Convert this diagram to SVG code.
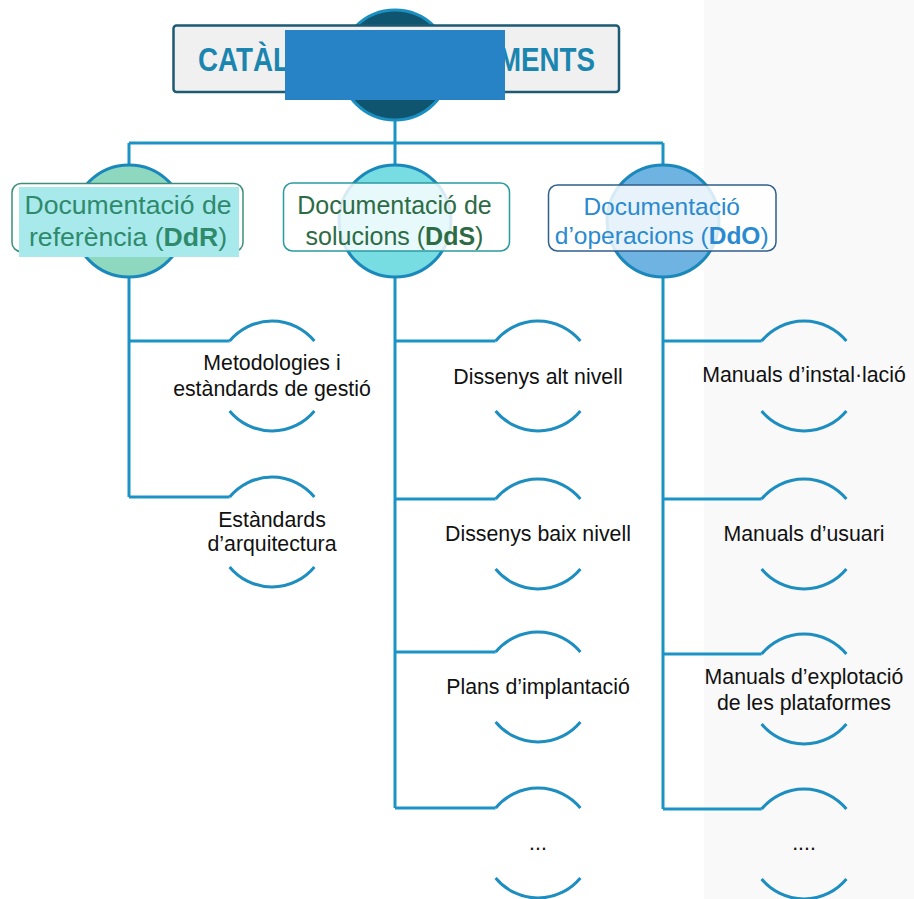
<svg xmlns="http://www.w3.org/2000/svg" width="914" height="899" viewBox="0 0 914 899">
  <defs>
    <style>
      .ln{fill:none;stroke:#1b93c5;stroke-width:3}
      .arc{fill:none;stroke:#1d8ebf;stroke-width:3}
      .ring{stroke:#1a88bb;stroke-width:3}
      .t{font-family:"Liberation Sans",Arial,sans-serif;font-size:21.3px;fill:#111;text-anchor:middle}
      .h{font-family:"Liberation Sans",Arial,sans-serif;text-anchor:middle}
      .b{font-weight:bold}
    </style>
  </defs>
  <rect x="0" y="0" width="914" height="899" fill="#ffffff"/>
  <rect x="704" y="0" width="210" height="899" fill="#f9f9f9"/>

  <g id="connectors">
    <path class="ln" d="M395 65 V808"/>
    <path class="ln" d="M129 143 H663"/>
    <path class="ln" d="M129 143 V497"/>
    <path class="ln" d="M663 143 V809"/>
    <path class="ln" d="M129 341 H229.6 M129 497 H229.6"/>
    <path class="ln" d="M395 341 H495.6 M395 499 H495.6 M395 652 H495.6 M395 808 H495.6"/>
    <path class="ln" d="M663 341 H761.6 M663 499 H761.6 M663 654 H761.6 M663 809 H761.6"/>
  </g>

  <g id="title">
    <circle cx="395" cy="65" r="55" fill="#0f5570" stroke="#1a8fc0" stroke-width="3"/>
    <rect x="173.5" y="25.5" width="445.5" height="66.5" rx="3" fill="#f0f0f0" stroke="#1d5a73" stroke-width="2.5"/>
    <text x="198" y="71" class="b" font-family="Liberation Sans,Arial,sans-serif" font-size="33" fill="#1a86b0" textLength="92" lengthAdjust="spacingAndGlyphs">CATÀL</text>
    <text x="595" y="71" class="b" font-family="Liberation Sans,Arial,sans-serif" font-size="33" fill="#1a86b0" text-anchor="end" textLength="97" lengthAdjust="spacingAndGlyphs">MENTS</text>
    <rect x="285" y="30" width="220" height="70" fill="#2782c6"/>
  </g>

  <g id="ddr">
    <circle class="ring" cx="129" cy="221" r="56" fill="#8fd8c0"/>
    <rect x="12" y="183.5" width="231" height="68" rx="9" fill="#ffffff" stroke="#3d8f78" stroke-width="1.5"/>
    <rect x="19" y="187" width="220" height="70" fill="#a8e9ec"/>
    <text class="h" x="128" y="214" font-size="26.6" fill="#2f8a6c">Documentació de</text>
    <text class="h" x="128" y="246" font-size="26.6" fill="#2f8a6c">referència (<tspan class="b">DdR</tspan>)</text>
  </g>

  <g id="dds">
    <circle class="ring" cx="395" cy="221" r="56" fill="#78dde3"/>
    <rect x="283.5" y="183" width="226" height="68" rx="9" fill="#ffffff" fill-opacity="0.83" stroke="#2a9a9e" stroke-width="1.5"/>
    <text class="h" x="394.5" y="213.5" font-size="25" fill="#2d6b45">Documentació de</text>
    <text class="h" x="394.5" y="245" font-size="25" fill="#2d6b45">solucions (<tspan class="b">DdS</tspan>)</text>
  </g>

  <g id="ddo">
    <circle class="ring" cx="663" cy="221" r="56" fill="#6fb3e2"/>
    <rect x="548.5" y="185" width="227.5" height="66" rx="9" fill="#ffffff" fill-opacity="0.83" stroke="#2f5f8c" stroke-width="1.5"/>
    <text class="h" x="661.7" y="215" font-size="24.5" fill="#2a8ad0">Documentació</text>
    <text class="h" x="661.7" y="243.5" font-size="24.5" fill="#2a8ad0">d’operacions (<tspan class="b">DdO</tspan>)</text>
  </g>

  <g id="metodologies">
    <path class="arc" d="M229.6 341 A55 55 0 0 1 314.4 341"/>
    <path class="arc" d="M229.6 411 A55 55 0 0 0 314.4 411"/>
    <text class="t" x="272" y="370">Metodologies i</text>
    <text class="t" x="272" y="396">estàndards de gestió</text>
  </g>
  <g id="estandards">
    <path class="arc" d="M229.6 497 A55 55 0 0 1 314.4 497"/>
    <path class="arc" d="M229.6 567 A55 55 0 0 0 314.4 567"/>
    <text class="t" x="272" y="527">Estàndards</text>
    <text class="t" x="272" y="551">d’arquitectura</text>
  </g>

  <g id="dissenys-alt">
    <path class="arc" d="M495.6 341 A55 55 0 0 1 580.4 341"/>
    <path class="arc" d="M495.6 411 A55 55 0 0 0 580.4 411"/>
    <text class="t" x="538" y="383.5">Dissenys alt nivell</text>
  </g>
  <g id="dissenys-baix">
    <path class="arc" d="M495.6 499 A55 55 0 0 1 580.4 499"/>
    <path class="arc" d="M495.6 569 A55 55 0 0 0 580.4 569"/>
    <text class="t" x="538" y="541">Dissenys baix nivell</text>
  </g>
  <g id="plans">
    <path class="arc" d="M495.6 652 A55 55 0 0 1 580.4 652"/>
    <path class="arc" d="M495.6 722 A55 55 0 0 0 580.4 722"/>
    <text class="t" x="538" y="694">Plans d’implantació</text>
  </g>
  <g id="dds-more">
    <path class="arc" d="M495.6 808 A55 55 0 0 1 580.4 808"/>
    <path class="arc" d="M495.6 878 A55 55 0 0 0 580.4 878"/>
    <text class="t" x="538" y="850">...</text>
  </g>

  <g id="manuals-installacio">
    <path class="arc" d="M761.6 341 A55 55 0 0 1 846.4 341"/>
    <path class="arc" d="M761.6 411 A55 55 0 0 0 846.4 411"/>
    <text class="t" x="804" y="382">Manuals d’instal·lació</text>
  </g>
  <g id="manuals-usuari">
    <path class="arc" d="M761.6 499 A55 55 0 0 1 846.4 499"/>
    <path class="arc" d="M761.6 569 A55 55 0 0 0 846.4 569"/>
    <text class="t" x="804" y="541">Manuals d’usuari</text>
  </g>
  <g id="manuals-explotacio">
    <path class="arc" d="M761.6 654 A55 55 0 0 1 846.4 654"/>
    <path class="arc" d="M761.6 724 A55 55 0 0 0 846.4 724"/>
    <text class="t" x="804" y="683.5">Manuals d’explotació</text>
    <text class="t" x="804" y="709.5">de les plataformes</text>
  </g>
  <g id="ddo-more">
    <path class="arc" d="M761.6 809 A55 55 0 0 1 846.4 809"/>
    <path class="arc" d="M761.6 879 A55 55 0 0 0 846.4 879"/>
    <text class="t" x="804" y="850">....</text>
  </g>
</svg>
